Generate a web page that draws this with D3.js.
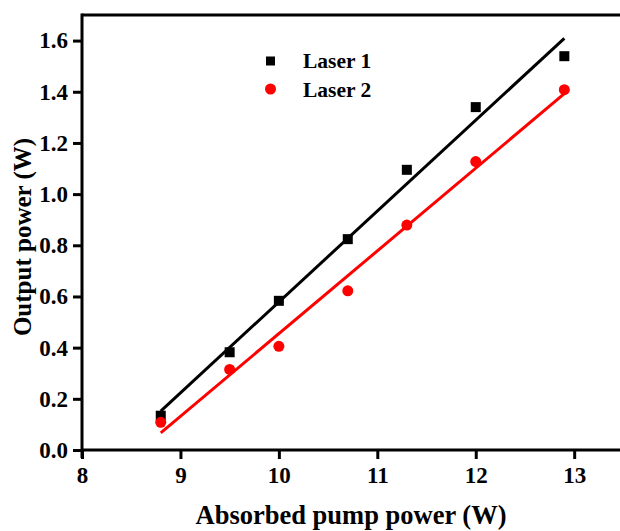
<!DOCTYPE html>
<html>
<head>
<meta charset="utf-8">
<script src="https://cdn.jsdelivr.net/npm/d3@7/dist/d3.min.js"></script>
<style>
  html, body { margin: 0; padding: 0; background: #fff; }
  svg { display: block; }
  text { font-family: "Liberation Serif", "Times New Roman", serif; font-weight: bold; fill: #000; }
</style>
</head>
<body>
<svg id="chart" width="620" height="531"></svg>
<script>
// ---- data ----
const pumpPower = [8.8, 9.5, 10.0, 10.7, 11.3, 12.0, 12.9];
const laser1 = [0.134, 0.382, 0.583, 0.824, 1.095, 1.340, 1.539];
const laser2 = [0.108, 0.315, 0.405, 0.622, 0.879, 1.127, 1.408];
const seriesNames = ["Laser 1", "Laser 2"];
const xTicks = [8, 9, 10, 11, 12, 13];
const yTicks = [0.0, 0.2, 0.4, 0.6, 0.8, 1.0, 1.2, 1.4, 1.6];
const xTitle = "Absorbed pump power (W)";
const yTitle = "Output power (W)";

const svg = d3.select("#chart");
const W = 620, H = 531;
const m = { left: 82, top: 15, bottom: 81 };
const x = d3.scaleLinear().domain([8, 13.5]).range([m.left, 623.4]);
const y = d3.scaleLinear().domain([0, 1.7]).range([450, m.top]);

function fit(xs, ys) {
  const n = xs.length;
  const mx = d3.mean(xs), my = d3.mean(ys);
  let sxy = 0, sxx = 0;
  for (let i = 0; i < n; i++) { sxy += (xs[i]-mx)*(ys[i]-my); sxx += (xs[i]-mx)**2; }
  const b = sxy / sxx, a = my - b*mx;
  return v => a + b*v;
}

// frame: top border
svg.append("line")
  .attr("x1", x(8)).attr("x2", W + 5)
  .attr("y1", y(1.7)).attr("y2", y(1.7))
  .attr("stroke", "#000").attr("stroke-width", 3);

// x axis
const gx = svg.append("g").attr("transform", `translate(0,${y(0)})`)
  .call(d3.axisBottom(x).tickValues(xTicks).tickFormat(d3.format("d")).tickSize(9).tickSizeOuter(0).tickPadding(6));
gx.select(".domain").attr("stroke-width", 3).attr("d", `M${x(8)},0H${W+5}`);
gx.selectAll(".tick line").attr("stroke-width", 3);
gx.selectAll(".tick text").style("font-size", "23px").attr("dy", "0.72em").attr("y", 16);

// y axis
const gy = svg.append("g").attr("transform", `translate(${x(8)},0)`)
  .call(d3.axisLeft(y).tickValues(yTicks).tickFormat(d3.format(".1f")).tickSize(9).tickSizeOuter(0).tickPadding(5));
gy.select(".domain").attr("stroke-width", 3).attr("d", `M0,${y(1.7)-1.5}V${y(0)+8}`);
gy.selectAll(".tick line").attr("stroke-width", 3);
gy.selectAll(".tick text").style("font-size", "23px").attr("x", -14);

// titles
svg.append("text").attr("x", 351).attr("y", 524).attr("text-anchor", "middle")
  .style("font-size", "26.5px").text(xTitle);
svg.append("text").attr("transform", `translate(31,237) rotate(-90)`).attr("text-anchor", "middle")
  .style("font-size", "25px").text(yTitle);

// fit lines
const colors = ["#000000", "#ff0000"];
[laser1, laser2].forEach((s, i) => {
  const f = fit(pumpPower, s);
  const x0 = pumpPower[0], x1 = pumpPower[pumpPower.length - 1];
  svg.append("line")
    .attr("x1", x(x0)).attr("y1", y(f(x0)))
    .attr("x2", x(x1)).attr("y2", y(f(x1)))
    .attr("stroke", colors[i]).attr("stroke-width", 3);
});

// markers
const sq = 10;
svg.append("g").selectAll("rect").data(pumpPower.map((p, i) => [p, laser1[i]]))
  .join("rect")
  .attr("x", d => x(d[0]) - sq/2).attr("y", d => y(d[1]) - sq/2)
  .attr("width", sq).attr("height", sq).attr("fill", "#000");
svg.append("g").selectAll("circle").data(pumpPower.map((p, i) => [p, laser2[i]]))
  .join("circle")
  .attr("cx", d => x(d[0])).attr("cy", d => y(d[1])).attr("r", 5.5).attr("fill", "#ff0000");

// legend
const lg = svg.append("g");
lg.append("rect").attr("x", 266).attr("y", 56.5).attr("width", 9).attr("height", 9).attr("fill", "#000");
lg.append("circle").attr("cx", 270.5).attr("cy", 89).attr("r", 5.5).attr("fill", "#ff0000");
lg.append("text").attr("x", 303).attr("y", 67.5).style("font-size", "21.5px").text(seriesNames[0]);
lg.append("text").attr("x", 303).attr("y", 96.5).style("font-size", "21.5px").text(seriesNames[1]);
</script>
</body>
</html>
